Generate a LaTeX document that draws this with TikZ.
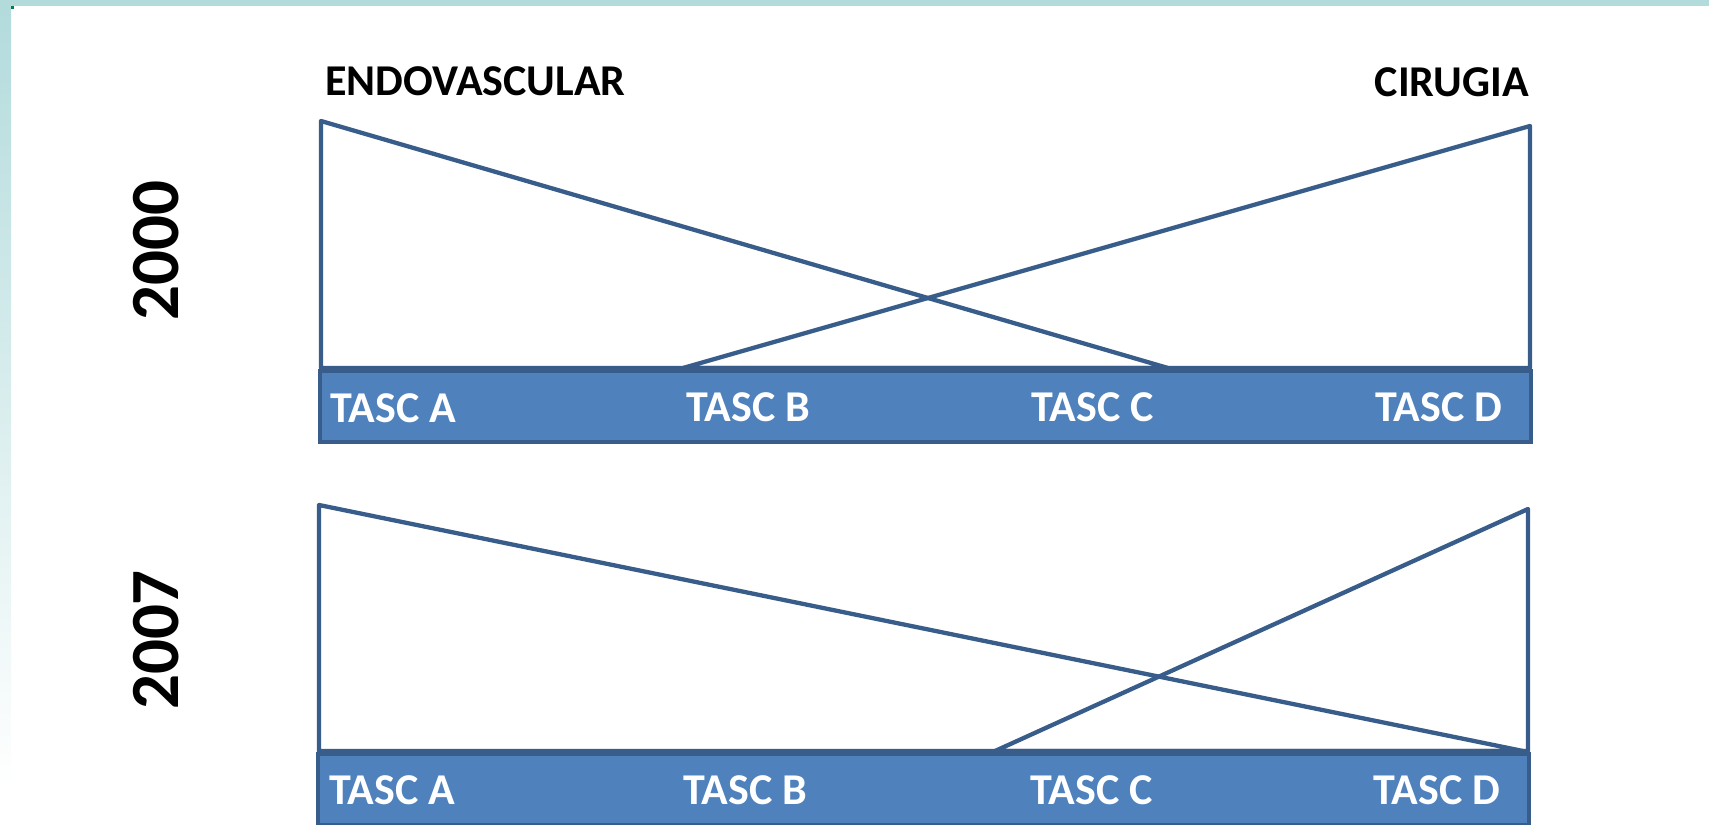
\documentclass[tikz,border=0pt]{standalone}
\usepackage{fontspec}
\setmainfont{Carlito}
\definecolor{barfill}{HTML}{4F81BD}
\definecolor{barline}{HTML}{385D8A}
\definecolor{band}{HTML}{B3DBDC}
\definecolor{cornermark}{HTML}{00804A}
\tikzset{
  bar/.style={draw=barline, line width=3.5pt, fill=barfill, inner sep=0pt, outer sep=0pt,
              minimum width=1211pt, minimum height=71pt, anchor=north west},
  tri/.style={draw=barline, line width=4.3pt, line join=round},
  lab/.style={font=\fontsize{44}{44}\selectfont\bfseries, text=white, inner sep=0pt, anchor=base west},
  head/.style={font=\fontsize{44}{44}\selectfont\bfseries, text=black, inner sep=0pt},
  year/.style={font=\fontsize{69}{69}\selectfont\bfseries, text=black, inner sep=0pt, rotate=90}
}
\begin{document}
\begin{tikzpicture}[x=1pt, y=-1pt]
\useasboundingbox (0,0) rectangle (1709,825);
% page frame: top band, fading side band, small corner mark
\fill[band] (0,0) rectangle (1709,6);
\shade[top color=band, bottom color=white] (0,6) rectangle (11,790);
\fill[cornermark] (11,6) rectangle (14,9);

% headers
\node[head, anchor=base west] (endo) at (325,95) {ENDOVASCULAR};
\node[head, anchor=base east] (ciru) at (1529,96) {CIRUGIA};

% years
\node[year] (y2000) at (156,251) {2000};
\node[year] (y2007) at (156,640) {2007};

% ---- 2000 ----
\node[bar] (barA) at (320,371) {};
\coordinate (a1) at (321,121);
\coordinate (a2) at (321,368);
\coordinate (a3) at (1168,368);
\coordinate (b1) at (1530,126);
\coordinate (b2) at (1530,368);
\coordinate (b3) at (683,368);
\draw[tri] (a1) -- (a2) -- (a3) -- cycle;
\draw[tri] (b1) -- (b2) -- (b3) -- cycle;
\node[lab] (tA1) at (330,422) {TASC A};
\node[lab] (tB1) at (686,421) {TASC B};
\node[lab] (tC1) at (1031,421) {TASC C};
\node[lab] (tD1) at (1375,421) {TASC D};

% ---- 2007 ----
\node[bar] (barB) at (318,754) {};
\coordinate (c1) at (319,505);
\coordinate (c2) at (319,751);
\coordinate (c3) at (1523,751);
\coordinate (d1) at (1528,509);
\coordinate (d2) at (1528,751);
\coordinate (d3) at (995,751);
\draw[tri] (c1) -- (c2) -- (c3) -- cycle;
\draw[tri] (d1) -- (d2) -- (d3) -- cycle;
\node[lab] (tA2) at (329,804) {TASC A};
\node[lab] (tB2) at (683,804) {TASC B};
\node[lab] (tC2) at (1030,804) {TASC C};
\node[lab] (tD2) at (1373,804) {TASC D};
\end{tikzpicture}
\end{document}
